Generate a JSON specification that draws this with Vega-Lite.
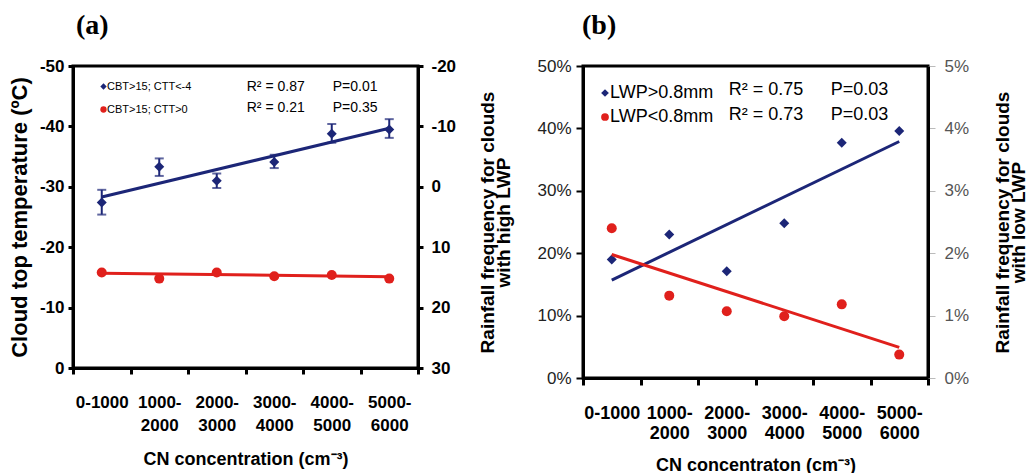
{
  "$schema": "https://vega.github.io/schema/vega-lite/v6.json",
  "padding": {"left": 6, "top": 10, "right": 0, "bottom": 0},
  "background": "white",
  "config": {
    "view": {"stroke": "black", "strokeWidth": 3},
    "font": "Liberation Sans",
    "axis": {"grid": false, "domainColor": "black", "domainWidth": 3, "tickColor": "black", "labelColor": "black", "titleColor": "black", "labelFont": "Liberation Sans", "titleFont": "Liberation Sans", "titleFontWeight": "bold"},
    "legend": {"padding": 0, "labelFont": "Liberation Sans", "labelColor": "black"}
  },
  "datasets": {
    "a": [
      {"cat": "0-1000", "series": "CBT>15; CTT<-4", "value": -27.4, "lo": -29.5, "hi": -25.4},
      {"cat": "1000- 2000", "series": "CBT>15; CTT<-4", "value": -33.3, "lo": -34.7, "hi": -31.8},
      {"cat": "2000- 3000", "series": "CBT>15; CTT<-4", "value": -31.0, "lo": -32.2, "hi": -29.8},
      {"cat": "3000- 4000", "series": "CBT>15; CTT<-4", "value": -34.1, "lo": -35.3, "hi": -33.1},
      {"cat": "4000- 5000", "series": "CBT>15; CTT<-4", "value": -38.8, "lo": -40.4, "hi": -37.3},
      {"cat": "5000- 6000", "series": "CBT>15; CTT<-4", "value": -39.5, "lo": -41.2, "hi": -38.1},
      {"cat": "0-1000", "series": "CBT>15; CTT>0", "value": -15.8, "lo": -16.1, "hi": -15.5},
      {"cat": "1000- 2000", "series": "CBT>15; CTT>0", "value": -14.8, "lo": -15.1, "hi": -14.5},
      {"cat": "2000- 3000", "series": "CBT>15; CTT>0", "value": -15.8, "lo": -16.1, "hi": -15.5},
      {"cat": "3000- 4000", "series": "CBT>15; CTT>0", "value": -15.2, "lo": -15.5, "hi": -14.9},
      {"cat": "4000- 5000", "series": "CBT>15; CTT>0", "value": -15.4, "lo": -15.7, "hi": -15.1},
      {"cat": "5000- 6000", "series": "CBT>15; CTT>0", "value": -14.8, "lo": -15.1, "hi": -14.5}
    ],
    "afit": [
      {"cat": "0-1000", "series": "CBT>15; CTT<-4", "value": -28.3},
      {"cat": "5000- 6000", "series": "CBT>15; CTT<-4", "value": -39.7},
      {"cat": "0-1000", "series": "CBT>15; CTT>0", "value": -15.7},
      {"cat": "5000- 6000", "series": "CBT>15; CTT>0", "value": -15.1}
    ],
    "b": [
      {"cat": "0-1000", "series": "LWP>0.8mm", "value": 0.190},
      {"cat": "1000- 2000", "series": "LWP>0.8mm", "value": 0.230},
      {"cat": "2000- 3000", "series": "LWP>0.8mm", "value": 0.171},
      {"cat": "3000- 4000", "series": "LWP>0.8mm", "value": 0.248},
      {"cat": "4000- 5000", "series": "LWP>0.8mm", "value": 0.377},
      {"cat": "5000- 6000", "series": "LWP>0.8mm", "value": 0.396},
      {"cat": "0-1000", "series": "LWP<0.8mm", "value": 0.0240},
      {"cat": "1000- 2000", "series": "LWP<0.8mm", "value": 0.0132},
      {"cat": "2000- 3000", "series": "LWP<0.8mm", "value": 0.0107},
      {"cat": "3000- 4000", "series": "LWP<0.8mm", "value": 0.0099},
      {"cat": "4000- 5000", "series": "LWP<0.8mm", "value": 0.0118},
      {"cat": "5000- 6000", "series": "LWP<0.8mm", "value": 0.00375}
    ],
    "bfit": [
      {"cat": "0-1000", "series": "LWP>0.8mm", "value": 0.157},
      {"cat": "5000- 6000", "series": "LWP>0.8mm", "value": 0.379},
      {"cat": "0-1000", "series": "LWP<0.8mm", "value": 0.0198},
      {"cat": "5000- 6000", "series": "LWP<0.8mm", "value": 0.0049}
    ]
  },
  "spacing": 19,
  "resolve": {"scale": {"color": "independent", "shape": "independent"}},
  "hconcat": [
    {
      "title": {"text": "(a)", "anchor": "start", "frame": "group", "dx": 3, "offset": 17, "font": "Liberation Serif", "fontSize": 28, "fontWeight": "bold", "color": "black"},
      "width": 345,
      "height": 302,
      "encoding": {
        "x": {"field": "cat", "type": "nominal",
          "scale": {"type": "band", "domain": ["0-1000", "1000- 2000", "2000- 3000", "3000- 4000", "4000- 5000", "5000- 6000"], "paddingInner": 0, "paddingOuter": 0},
          "axis": {"title": "CN  concentration (cm⁻³)", "labelAngle": 0, "tickBand": "extent", "labelExpr": "split(datum.label, ' ')", "labelBaseline": "top", "labelLineHeight": 23, "labelPadding": 20, "labelFontSize": 17, "labelFontWeight": "bold", "tickSize": 6, "tickWidth": 3, "titleFontSize": 18, "titlePadding": 17}}
      },
      "layer": [
        {
          "layer": [
            {
              "data": {"name": "afit"},
              "transform": [{"filter": "datum.series === 'CBT>15; CTT<-4'"}],
              "mark": {"type": "line", "color": "#1c2677", "strokeWidth": 3},
              "encoding": {
                "y": {"field": "value", "type": "quantitative", "scale": {"domain": [-50, 0], "reverse": true},
                  "axis": {"title": "Cloud top temperature (ºC)", "values": [-50, -40, -30, -20, -10, 0], "labelExpr": "replace(datum.label, '−', '-')", "labelFontSize": 17, "labelFontWeight": "bold", "labelPadding": 4, "tickSize": 5, "tickWidth": 3, "titleFontSize": 22, "titlePadding": 8}}
              }
            },
            {
              "data": {"name": "afit"},
              "transform": [{"filter": "datum.series === 'CBT>15; CTT>0'"}],
              "mark": {"type": "line", "color": "#e0201c", "strokeWidth": 3},
              "encoding": {"y": {"field": "value", "type": "quantitative"}}
            },
            {
              "data": {"name": "a"},
              "transform": [{"filter": "datum.series === 'CBT>15; CTT<-4'"}],
              "mark": {"type": "errorbar", "ticks": true, "size": 9, "thickness": 2, "color": "#1c2677"},
              "encoding": {"y": {"field": "lo", "type": "quantitative", "title": "Cloud top temperature (ºC)"}, "y2": {"field": "hi"}}
            },
            {
              "data": {"name": "a"},
              "mark": {"type": "point", "filled": true, "opacity": 1, "size": 100},
              "encoding": {
                "y": {"field": "value", "type": "quantitative"},
                "color": {"field": "series", "type": "nominal", "scale": {"domain": ["CBT>15; CTT<-4", "CBT>15; CTT>0"], "range": ["#1c2677", "#e0201c"]},
                  "legend": {"orient": "none", "legendX": 25, "legendY": 15, "title": null, "labelFontSize": 11, "symbolSize": 40, "rowPadding": 11, "labelOffset": -2}},
                "shape": {"field": "series", "type": "nominal", "scale": {"domain": ["CBT>15; CTT<-4", "CBT>15; CTT>0"], "range": ["diamond", "circle"]},
                  "legend": {"orient": "none", "legendX": 25, "legendY": 15, "title": null, "labelFontSize": 11, "symbolSize": 40, "rowPadding": 11, "labelOffset": -2}}
              }
            },
            {
              "data": {"values": [{}]},
              "mark": {"type": "text", "text": "R² = 0.87", "align": "left", "baseline": "middle", "fontSize": 14, "dx": 30, "color": "black"},
              "encoding": {"x": {"datum": "2000- 3000", "type": "nominal"}, "y": {"datum": -46.5, "type": "quantitative"}}
            },
            {
              "data": {"values": [{}]},
              "mark": {"type": "text", "text": "R² = 0.21", "align": "left", "baseline": "middle", "fontSize": 14, "dx": 30, "color": "black"},
              "encoding": {"x": {"datum": "2000- 3000", "type": "nominal"}, "y": {"datum": -43.0, "type": "quantitative"}}
            },
            {
              "data": {"values": [{}]},
              "mark": {"type": "text", "text": "P=0.01", "align": "left", "baseline": "middle", "fontSize": 14, "dx": 1, "color": "black"},
              "encoding": {"x": {"datum": "4000- 5000", "type": "nominal"}, "y": {"datum": -46.5, "type": "quantitative"}}
            },
            {
              "data": {"values": [{}]},
              "mark": {"type": "text", "text": "P=0.35", "align": "left", "baseline": "middle", "fontSize": 14, "dx": 1, "color": "black"},
              "encoding": {"x": {"datum": "4000- 5000", "type": "nominal"}, "y": {"datum": -43.0, "type": "quantitative"}}
            }
          ]
        },
        {
          "data": {"values": [{}]},
          "mark": {"type": "point", "opacity": 0},
          "encoding": {
            "x": {"datum": "0-1000", "type": "nominal"},
            "y": {"datum": 0, "type": "quantitative", "scale": {"domain": [-20, 30], "reverse": true},
              "axis": {"orient": "right", "title": null, "values": [-20, -10, 0, 10, 20, 30], "labelExpr": "replace(datum.label, '−', '-')", "labelFontSize": 17, "labelFontWeight": "bold", "labelPadding": 8, "tickSize": 5, "tickWidth": 3}}
          }
        }
      ],
      "resolve": {"scale": {"y": "independent"}}
    },
    {
      "title": {"text": "(b)", "anchor": "start", "frame": "group", "dx": -1, "offset": 17, "font": "Liberation Serif", "fontSize": 28, "fontWeight": "bold", "color": "black"},
      "width": 345,
      "height": 312,
      "encoding": {
        "x": {"field": "cat", "type": "nominal",
          "scale": {"type": "band", "domain": ["0-1000", "1000- 2000", "2000- 3000", "3000- 4000", "4000- 5000", "5000- 6000"], "paddingInner": 0, "paddingOuter": 0},
          "axis": {"title": "CN concentraton (cm⁻³)", "labelAngle": 0, "tickBand": "extent", "labelExpr": "split(datum.label, ' ')", "labelBaseline": "top", "labelLineHeight": 20, "labelPadding": 19, "labelFontSize": 18, "labelFontWeight": "bold", "tickSize": 7, "tickWidth": 3, "titleFontSize": 18, "titlePadding": 14}}
      },
      "layer": [
        {
          "layer": [
            {
              "data": {"name": "bfit"},
              "transform": [{"filter": "datum.series === 'LWP>0.8mm'"}],
              "mark": {"type": "line", "color": "#1c2677", "strokeWidth": 3},
              "encoding": {
                "y": {"field": "value", "type": "quantitative", "scale": {"domain": [0, 0.5]},
                  "axis": {"title": ["Rainfall frequency for clouds", "with high LWP"], "format": ".0%", "values": [0, 0.1, 0.2, 0.3, 0.4, 0.5], "labelFontSize": 17, "labelFontWeight": "normal", "labelColor": "#222", "labelPadding": 5, "tickSize": 7, "tickWidth": 2, "titleFontSize": 19, "titleLineHeight": 16, "titlePadding": 23}}
              }
            },
            {
              "data": {"name": "b"},
              "transform": [{"filter": "datum.series === 'LWP>0.8mm'"}],
              "mark": {"type": "point", "filled": true, "opacity": 1, "size": 100},
              "encoding": {
                "y": {"field": "value", "type": "quantitative"},
                "color": {"field": "series", "type": "nominal", "scale": {"domain": ["LWP>0.8mm", "LWP<0.8mm"], "range": ["#1c2677", "#e0201c"]},
                  "legend": {"orient": "none", "legendX": 13, "legendY": 18, "title": null, "labelFontSize": 18, "symbolSize": 60, "rowPadding": 6, "labelOffset": -4}},
                "shape": {"field": "series", "type": "nominal", "scale": {"domain": ["LWP>0.8mm", "LWP<0.8mm"], "range": ["diamond", "circle"]},
                  "legend": {"orient": "none", "legendX": 13, "legendY": 18, "title": null, "labelFontSize": 18, "symbolSize": 60, "rowPadding": 6, "labelOffset": -4}}
              }
            },
            {
              "data": {"values": [{}]},
              "mark": {"type": "text", "text": "R² = 0.75", "align": "left", "baseline": "middle", "fontSize": 18, "dx": 2, "color": "black"},
              "encoding": {"x": {"datum": "2000- 3000", "type": "nominal"}, "y": {"datum": 0.461, "type": "quantitative"}}
            },
            {
              "data": {"values": [{}]},
              "mark": {"type": "text", "text": "R² = 0.73", "align": "left", "baseline": "middle", "fontSize": 18, "dx": 2, "color": "black"},
              "encoding": {"x": {"datum": "2000- 3000", "type": "nominal"}, "y": {"datum": 0.422, "type": "quantitative"}}
            },
            {
              "data": {"values": [{}]},
              "mark": {"type": "text", "text": "P=0.03", "align": "left", "baseline": "middle", "fontSize": 18, "dx": -11, "color": "black"},
              "encoding": {"x": {"datum": "4000- 5000", "type": "nominal"}, "y": {"datum": 0.461, "type": "quantitative"}}
            },
            {
              "data": {"values": [{}]},
              "mark": {"type": "text", "text": "P=0.03", "align": "left", "baseline": "middle", "fontSize": 18, "dx": -11, "color": "black"},
              "encoding": {"x": {"datum": "4000- 5000", "type": "nominal"}, "y": {"datum": 0.422, "type": "quantitative"}}
            }
          ]
        },
        {
          "layer": [
            {
              "data": {"name": "bfit"},
              "transform": [{"filter": "datum.series === 'LWP<0.8mm'"}],
              "mark": {"type": "line", "color": "#e0201c", "strokeWidth": 3},
              "encoding": {
                "y": {"field": "value", "type": "quantitative", "scale": {"domain": [0, 0.05]},
                  "axis": {"orient": "right", "title": ["Rainfall frequency for clouds", "with low LWP"], "titleAngle": 270, "format": ".0%", "values": [0, 0.01, 0.02, 0.03, 0.04, 0.05], "labelFontSize": 17, "labelFontWeight": "normal", "labelColor": "#555", "labelPadding": 9, "tickSize": 7, "tickWidth": 1, "tickColor": "#bbb", "titleFontSize": 19, "titleLineHeight": 16, "titlePadding": 28}}
              }
            },
            {
              "data": {"name": "b"},
              "transform": [{"filter": "datum.series === 'LWP<0.8mm'"}],
              "mark": {"type": "point", "filled": true, "opacity": 1, "size": 100},
              "encoding": {
                "y": {"field": "value", "type": "quantitative"},
                "color": {"field": "series", "type": "nominal", "scale": {"domain": ["LWP>0.8mm", "LWP<0.8mm"], "range": ["#1c2677", "#e0201c"]},
                  "legend": {"orient": "none", "legendX": 13, "legendY": 18, "title": null, "labelFontSize": 18, "symbolSize": 60, "rowPadding": 6, "labelOffset": -4}},
                "shape": {"field": "series", "type": "nominal", "scale": {"domain": ["LWP>0.8mm", "LWP<0.8mm"], "range": ["diamond", "circle"]},
                  "legend": {"orient": "none", "legendX": 13, "legendY": 18, "title": null, "labelFontSize": 18, "symbolSize": 60, "rowPadding": 6, "labelOffset": -4}}
              }
            }
          ]
        }
      ],
      "resolve": {"scale": {"y": "independent"}}
    }
  ]
}
